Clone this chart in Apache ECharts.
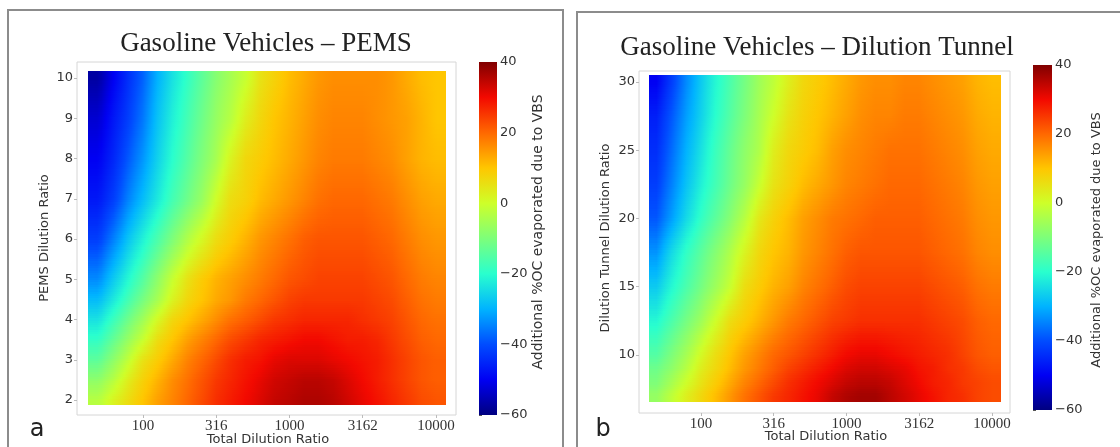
<!DOCTYPE html>
<html><head><meta charset="utf-8">
<script src="https://cdn.jsdelivr.net/npm/echarts@6/dist/echarts.min.js"></script>
<style>html,body{margin:0;padding:0;background:#fff}#c{width:1120px;height:447px}</style>
</head><body><div id="c"></div>
<script>
// ---------------- data ----------------
const totalDilution = [50, 63, 79, 100, 126, 158, 200, 251, 316, 398, 501, 631, 794, 1000, 1259, 1585, 1995, 2512, 3162, 3981, 5012, 6310, 7943, 10000];
const xTickValues = [100, 316, 1000, 3162, 10000];
const colorbarTicks = [-60, -40, -20, 0, 20, 40];

const pemsRatio = [2, 2.5, 3, 3.5, 4, 4.5, 5, 6, 7, 8, 9, 10];
const pemsTicks = [2, 3, 4, 5, 6, 7, 8, 9, 10];
const pemsValues = [
  [-3, 2, 6, 10, 14, 17, 20, 23, 26, 28, 30, 32, 34, 35, 36, 36, 35, 33, 31, 29, 27, 25, 23, 22],
  [-8, -3, 3, 8, 12, 16, 19, 22, 25, 27, 29, 31, 33, 34, 35, 35, 34, 32, 30, 28, 26, 24, 22, 21],
  [-14, -8, -2, 5, 9, 13, 17, 20, 23, 26, 28, 29, 31, 32, 32, 32, 31, 30, 29, 28, 26, 24, 22, 21],
  [-19, -13, -7, -1, 6, 10, 14, 17, 20, 23, 25, 27, 28, 29, 30, 30, 29, 28, 28, 27, 25, 23, 21, 20],
  [-24, -18, -12, -6, 1, 7, 10, 13, 16, 19, 21, 23, 25, 26, 27, 27, 27, 27, 26, 25, 24, 22, 20, 19],
  [-29, -23, -17, -11, -5, 2, 7, 10, 13, 15, 18, 20, 22, 24, 25, 25, 25, 25, 25, 24, 23, 21, 19, 18],
  [-34, -27, -21, -15, -8, -1, 5, 9, 12, 14, 16, 18, 20, 22, 23, 24, 24, 24, 24, 23, 22, 20, 18, 17],
  [-42, -35, -28, -22, -16, -10, -4, 1, 6, 9, 12, 15, 17, 19, 21, 22, 22, 22, 22, 21, 20, 18, 16, 15],
  [-47, -42, -35, -29, -23, -17, -12, -7, 0, 6, 8, 11, 13, 15, 17, 19, 20, 20, 20, 19, 18, 16, 14, 13],
  [-50, -45, -39, -33, -26, -20, -15, -10, -5, 2, 7, 9, 11, 13, 15, 17, 18, 18, 18, 17, 16, 14, 12, 11],
  [-53, -47, -42, -36, -28, -22, -17, -12, -7, -3, 3, 7, 10, 12, 14, 16, 17, 17, 17, 16, 15, 14, 12, 10],
  [-57, -50, -44, -38, -30, -24, -19, -14, -9, -5, -1, 5, 8, 11, 13, 15, 16, 16, 16, 16, 15, 13, 11, 10]
];

const tunnelRatio = [7, 8, 9, 10, 12.5, 15, 17.5, 20, 22.5, 25, 27.5, 30];
const tunnelTicks = [10, 15, 20, 25, 30];
const tunnelValues = [
  [-7, -2, 3, 7, 11, 15, 19, 22, 25, 27, 29, 31, 34, 36, 37, 37, 35, 33, 31, 29, 27, 26, 24, 23],
  [-10, -5, 0, 5, 9, 13, 17, 20, 23, 26, 28, 30, 32, 34, 35, 35, 34, 32, 30, 28, 27, 25, 24, 23],
  [-12, -8, -3, 3, 7, 11, 15, 18, 21, 24, 26, 28, 30, 32, 33, 33, 32, 31, 29, 28, 26, 25, 23, 22],
  [-15, -10, -5, 1, 6, 10, 14, 17, 20, 22, 24, 26, 28, 30, 31, 31, 30, 29, 28, 27, 26, 24, 22, 21],
  [-21, -16, -11, -6, 0, 6, 9, 12, 15, 18, 20, 22, 24, 25, 26, 26, 26, 26, 26, 25, 24, 23, 21, 20],
  [-27, -21, -16, -11, -6, -1, 6, 9, 12, 14, 17, 19, 21, 23, 24, 24, 24, 24, 24, 23, 22, 21, 19, 18],
  [-33, -25, -19, -14, -9, -4, 2, 7, 10, 12, 15, 17, 19, 21, 22, 22, 22, 22, 22, 21, 20, 19, 17, 16],
  [-39, -32, -25, -19, -14, -9, -3, 4, 8, 11, 14, 16, 18, 19, 20, 21, 21, 21, 21, 20, 19, 18, 16, 15],
  [-42, -35, -28, -22, -17, -12, -7, -1, 5, 8, 11, 13, 15, 17, 18, 19, 20, 20, 20, 19, 18, 17, 15, 14],
  [-44, -37, -30, -24, -18, -13, -8, -4, 3, 7, 9, 11, 14, 16, 17, 18, 19, 19, 19, 18, 17, 16, 14, 13],
  [-46, -39, -32, -26, -20, -15, -10, -5, 0, 5, 8, 10, 12, 14, 16, 17, 17, 18, 18, 17, 16, 15, 13, 12],
  [-50, -42, -34, -27, -21, -16, -11, -6, -2, 3, 7, 9, 11, 13, 15, 16, 16, 17, 17, 16, 15, 14, 12, 11]
];

// ---------------- layout / style ----------------
const JET = ['#000080', '#0000f3', '#004cff', '#00b3ff', '#29ffce', '#7dff7a', '#ceff29', '#ffc600', '#ff6800', '#f30900', '#800000'];
const VMIN = -60, VMAX = 40;
const SANS = 'DejaVu Sans';
const SERIF = 'Liberation Serif';
const LA = { grid: {left: 77, top: 62, width: 379, height: 353}, xr: [1.55, 4.137], yr: [1.627, 10.4], ext: {x: [1.625, 4.068], y: [1.876, 10.17]},
             cb: {left: 479, top: 62, width: 18, height: 353} };
const LB = { grid: {left: 639, top: 71, width: 371, height: 342}, xr: [1.574, 4.124], yr: [5.75, 30.8], ext: {x: [1.643, 4.062], y: [6.56, 30.51]},
             cb: {left: 1033, top: 65, width: 19, height: 345} };

const JET_RGB = JET.map(h => [parseInt(h.slice(1, 3), 16), parseInt(h.slice(3, 5), 16), parseInt(h.slice(5, 7), 16)]);
function jetColor(v) {
  let t = (v - VMIN) / (VMAX - VMIN); t = Math.max(0, Math.min(1, t));
  const p = t * (JET_RGB.length - 1), k = Math.min(JET_RGB.length - 2, Math.floor(p)), f = p - k;
  const a = JET_RGB[k], b = JET_RGB[k + 1];
  return 'rgb(' + [0, 1, 2].map(c => Math.round(a[c] + (b[c] - a[c]) * f)).join(',') + ')';
}
const xLog = totalDilution.map(v => Math.log10(v));
function edges(c, lo, hi) { const e = [lo]; for (let i = 0; i < c.length - 1; i++) e.push((c[i] + c[i + 1]) / 2); e.push(hi); return e; }
function frac(arr, v) {
  const n = arr.length;
  if (v <= arr[0]) return 0;
  if (v >= arr[n - 1]) return n - 1;
  let k = 0; while (k < n - 2 && v > arr[k + 1]) k++;
  return k + (v - arr[k]) / (arr[k + 1] - arr[k]);
}
function shade(values, fx, fy) {
  const nx = values[0].length, ny = values.length;
  const i0 = Math.floor(fx), i1 = Math.min(nx - 1, i0 + 1), tx = fx - i0;
  const j0 = Math.floor(fy), j1 = Math.min(ny - 1, j0 + 1), ty = fy - j0;
  const a = values[j0][i0] + (values[j0][i1] - values[j0][i0]) * tx;
  const b = values[j1][i0] + (values[j1][i1] - values[j1][i0]) * tx;
  return a + (b - a) * ty;
}
function cells(values, rows) { const d = []; rows.forEach((r, j) => values[j].forEach((v, i) => d.push([xLog[i], r, v, i, j]))); return d; }
function makeRender(values, rows, xe, ye) {
  return function (params, api) {
    const i = api.value(3), j = api.value(4);
    const p0 = api.coord([xe[i], ye[j]]), p1 = api.coord([xe[i + 1], ye[j + 1]]);
    const x0 = Math.round(p0[0]), x1 = Math.round(p1[0]);
    const yTop = p1[1], h = p0[1] - p1[1];
    const M = Math.max(1, Math.ceil(h / 2.5));
    const U = [0, 0.25, 0.5, 0.75, 1];
    const children = [];
    for (let s = 0; s < M; s++) {
      const sy0 = Math.round(yTop + h * s / M), sy1 = Math.round(yTop + h * (s + 1) / M);
      if (sy1 <= sy0) continue;
      const yd = ye[j + 1] + (ye[j] - ye[j + 1]) * ((s + 0.5) / M);
      const fy = frac(rows, yd);
      const stops = U.map(u => ({ offset: u, color: jetColor(shade(values, frac(xLog, xe[i] + u * (xe[i + 1] - xe[i])), fy)) }));
      children.push({ type: 'rect', shape: { x: x0, y: sy0, width: x1 - x0, height: sy1 - sy0 },
        style: { fill: new echarts.graphic.LinearGradient(0, 0, 1, 0, stops) } });
    }
    return { type: 'group', children: children };
  };
}
const xeA = edges(xLog, LA.ext.x[0], LA.ext.x[1]), yeA = edges(pemsRatio, LA.ext.y[0], LA.ext.y[1]);
const xeB = edges(xLog, LB.ext.x[0], LB.ext.x[1]), yeB = edges(tunnelRatio, LB.ext.y[0], LB.ext.y[1]);

function mainX(gi, r) {
  return { gridIndex: gi, type: 'value', min: r[0], max: r[1],
    axisLine: { show: false }, splitLine: { show: false },
    axisTick: { show: true, length: 3, customValues: xTickValues.map(v => Math.log10(v)), lineStyle: { color: '#bbb' } },
    axisLabel: { customValues: xTickValues.map(v => Math.log10(v)), formatter: v => String(Math.round(Math.pow(10, v))),
      fontFamily: SERIF, fontSize: 15, color: '#333', margin: 4 } };
}
function mainY(gi, r, ticks) {
  return { gridIndex: gi, type: 'value', min: r[0], max: r[1],
    axisLine: { show: false }, splitLine: { show: false },
    axisTick: { show: true, length: 3, customValues: ticks, lineStyle: { color: '#bbb' } },
    axisLabel: { customValues: ticks, fontFamily: SANS, fontSize: 13, color: '#333', margin: 4 } };
}
function cbY(gi) {
  return { gridIndex: gi, type: 'value', min: colorbarTicks[0], max: colorbarTicks[colorbarTicks.length - 1], interval: 20, position: 'right',
    axisLine: { show: false }, splitLine: { show: false },
    axisTick: { show: true, length: 3, lineStyle: { color: '#555' } },
    axisLabel: { formatter: v => String(v).replace('-', '\u2212'), fontFamily: SANS, fontSize: 13, color: '#333', margin: 3 } };
}
function cbRect(cb) {
  return { type: 'rect', shape: { x: cb.left, y: cb.top, width: cb.width, height: cb.height },
    style: { fill: new echarts.graphic.LinearGradient(0, 1, 0, 0, JET.map((c, k) => ({ offset: k / (JET.length - 1), color: c }))) }, z: 1 };
}
function txt(x, y, text, size, family, rot, color) {
  return { type: 'text', x: x, y: y, rotation: rot || 0, z: 10,
    style: { text: text, fontSize: size, fontFamily: family, fill: color || '#333', textAlign: 'center', textVerticalAlign: 'middle' } };
}

const option = {
  animation: false,
  backgroundColor: '#fff',
  grid: [
    Object.assign({ show: true, borderColor: '#d6d6d6', borderWidth: 1, backgroundColor: 'transparent' }, LA.grid),
    Object.assign({ show: true, borderColor: '#d6d6d6', borderWidth: 1, backgroundColor: 'transparent' }, LB.grid),
    LA.cb, LB.cb
  ],
  xAxis: [mainX(0, LA.xr), mainX(1, LB.xr), { gridIndex: 2, show: false, min: 0, max: 1 }, { gridIndex: 3, show: false, min: 0, max: 1 }],
  yAxis: [mainY(0, LA.yr, pemsTicks), mainY(1, LB.yr, tunnelTicks), cbY(2), cbY(3)],
  series: [
    { type: 'custom', xAxisIndex: 0, yAxisIndex: 0, encode: { x: 0, y: 1 }, data: cells(pemsValues, pemsRatio), renderItem: makeRender(pemsValues, pemsRatio, xeA, yeA), silent: true },
    { type: 'custom', xAxisIndex: 1, yAxisIndex: 1, encode: { x: 0, y: 1 }, data: cells(tunnelValues, tunnelRatio), renderItem: makeRender(tunnelValues, tunnelRatio, xeB, yeB), silent: true }
  ],
  graphic: [
    { type: 'rect', shape: { x: 8, y: 10, width: 555, height: 460 }, style: { fill: 'none', stroke: '#8c8c8c', lineWidth: 2 }, z: 0 },
    { type: 'rect', shape: { x: 577, y: 12, width: 560, height: 460 }, style: { fill: 'none', stroke: '#8c8c8c', lineWidth: 2 }, z: 0 },
    cbRect(LA.cb), cbRect(LB.cb),
    txt(266, 44, 'Gasoline Vehicles \u2013 PEMS', 27, SERIF, 0, '#222'),
    txt(817, 48, 'Gasoline Vehicles \u2013 Dilution Tunnel', 27, SERIF, 0, '#222'),
    txt(45, 238, 'PEMS Dilution Ratio', 13, SANS, Math.PI / 2),
    txt(606, 238, 'Dilution Tunnel Dilution Ratio', 13, SANS, Math.PI / 2),
    txt(268, 440, 'Total Dilution Ratio', 13, SANS),
    txt(826, 437, 'Total Dilution Ratio', 13, SANS),
    txt(538, 232, 'Additional %OC evaporated due to VBS', 14, SANS, Math.PI / 2),
    txt(1097, 240, 'Additional %OC evaporated due to VBS', 13, SANS, Math.PI / 2),
    txt(37, 430, 'a', 24, SANS, 0, '#222'),
    txt(603, 430, 'b', 24, SANS, 0, '#222')
  ]
};
const chart = echarts.init(document.getElementById('c'));
chart.setOption(option);
</script>
</body></html>
